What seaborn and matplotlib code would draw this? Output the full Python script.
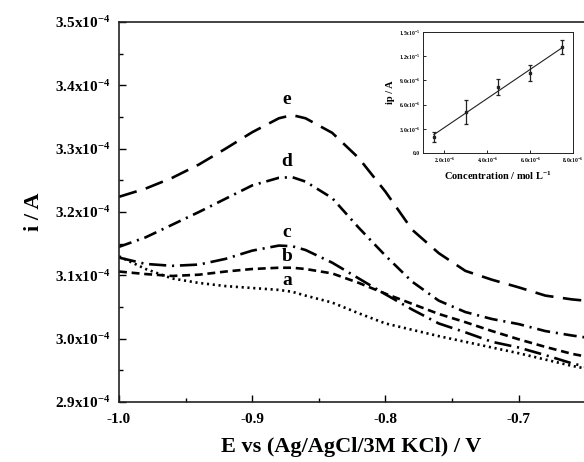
import numpy as np
import pandas as pd
import matplotlib
matplotlib.use("Agg")
import matplotlib.pyplot as plt
from matplotlib.ticker import MultipleLocator, FuncFormatter, FixedLocator
import seaborn as sns


# Datos

potencial = [-1.00, -0.98, -0.96, -0.94, -0.92, -0.90, -0.88, -0.87, -0.86, -0.84,
             -0.82, -0.80, -0.78, -0.76, -0.74, -0.72, -0.70, -0.68, -0.66, -0.65]

# corrientes en unidades de 1e-4 A
curva_a = [3.130, 3.110, 3.095, 3.088, 3.083, 3.080, 3.077, 3.074, 3.068, 3.057,
           3.040, 3.024, 3.014, 3.004, 2.995, 2.986, 2.977, 2.967, 2.957, 2.953]
curva_b = [3.106, 3.102, 3.099, 3.101, 3.106, 3.110, 3.112, 3.112, 3.110, 3.103,
           3.088, 3.071, 3.055, 3.039, 3.026, 3.012, 2.999, 2.987, 2.976, 2.972]
curva_c = [3.128, 3.118, 3.115, 3.117, 3.126, 3.139, 3.147, 3.146, 3.140, 3.120,
           3.095, 3.070, 3.046, 3.024, 3.010, 2.995, 2.986, 2.974, 2.961, 2.956]
curva_d = [3.145, 3.160, 3.180, 3.200, 3.221, 3.242, 3.254, 3.255, 3.248, 3.222,
           3.175, 3.131, 3.090, 3.060, 3.042, 3.031, 3.023, 3.012, 3.005, 3.002]
curva_e = [3.224, 3.237, 3.254, 3.275, 3.300, 3.326, 3.348, 3.353, 3.348, 3.325,
           3.285, 3.232, 3.172, 3.135, 3.107, 3.093, 3.081, 3.068, 3.062, 3.060]

etiquetas = ["a", "b", "c", "d", "e"]
pos_etiqueta = [3.092, 3.129, 3.167, 3.279, 3.377]

# Inset: calibración
concentracion = [1.5, 3.0, 4.5, 6.0, 7.5]   # x1e-6 mol/L
ip = [2.0, 5.1, 8.2, 9.9, 13.1]             # x1e-6 A
ip_err = [0.6, 1.45, 1.0, 1.0, 0.85]


# Estilo

sns.set_style("ticks")
plt.rcParams["font.family"] = ["Liberation Serif", "DejaVu Serif"]
plt.rcParams["font.weight"] = "bold"
plt.rcParams["mathtext.fontset"] = "custom"
plt.rcParams["mathtext.rm"] = "Liberation Serif:bold"
plt.rcParams["mathtext.bf"] = "Liberation Serif:bold"
plt.rcParams["mathtext.default"] = "bf"
plt.rcParams["axes.edgecolor"] = "#222222"
plt.rcParams["text.color"] = "black"
plt.rcParams["axes.labelcolor"] = "black"
plt.rcParams["xtick.color"] = "black"
plt.rcParams["ytick.color"] = "black"

fig = plt.figure(figsize=(5.84, 4.62), dpi=100)
ax = fig.add_axes([119 / 584, 1 - 402 / 462, 1 - 119 / 584, (402 - 22) / 462])

estilos = {
    "a": (0, (0.8, 1.4)),
    "b": (0, (3.0, 1.8)),
    "c": (0, (6.5, 2.2, 0.8, 2.2)),
    "d": (0, (5.0, 2.2, 0.8, 2.2)),
    "e": (0, (7.0, 3.6)),
}
curvas = [curva_a, curva_b, curva_c, curva_d, curva_e]

for nombre, valores in zip(etiquetas, curvas):
    sns.lineplot(
        x=potencial,
        y=np.array(valores) * 1e-4,
        ax=ax,
        color="black",
        lw=1.9,
        linestyle=estilos[nombre],
    )

for nombre, yv in zip(etiquetas, pos_etiqueta):
    ax.text(-0.874, yv * 1e-4, nombre, fontsize=14, fontweight="bold",
            ha="center", va="center")

ax.set_xlim(-1.0, -0.651)
ax.set_ylim(2.9e-4, 3.5e-4)
ax.xaxis.set_major_locator(MultipleLocator(0.1))
ax.xaxis.set_minor_locator(MultipleLocator(0.05))
ax.yaxis.set_major_locator(FixedLocator([2.9e-4 + i * 0.1e-4 for i in range(7)]))
ax.yaxis.set_minor_locator(FixedLocator([2.95e-4 + i * 0.1e-4 for i in range(6)]))
ax.xaxis.set_major_formatter(FuncFormatter(lambda v, p: f"{v:.1f}"))
ax.yaxis.set_major_formatter(FuncFormatter(lambda v, p: f"{v * 1e4:.1f}x10$^{{-4}}$"))
ax.tick_params(which="both", direction="in", width=1.0, labelsize=11)
ax.tick_params(which="major", length=5)
ax.tick_params(which="minor", length=3)
ax.tick_params(axis="x", pad=8)
ax.tick_params(axis="y", pad=6)
ax.spines["right"].set_visible(False)
for s in ["left", "top", "bottom"]:
    ax.spines[s].set_linewidth(1.2)

ax.set_xlabel("E vs (Ag/AgCl/3M KCl) / V", fontsize=16, fontweight="bold", labelpad=8)
ax.set_ylabel("i / A", fontsize=16, fontweight="bold", labelpad=8)

# Inset

ins = fig.add_axes([423 / 584, 1 - 153 / 462, (573 - 423) / 584, (153 - 32) / 462])
sns.regplot(x=concentracion, y=ip, ax=ins, ci=None, scatter=False,
            line_kws={"color": "#222222", "lw": 0.8})
ins.errorbar(concentracion, ip, yerr=ip_err, fmt="s", ms=2, color="#222222",
             ecolor="#222222", elinewidth=0.9, capsize=1.5, capthick=0.9)
ins.set_xlim(1.0, 8.0)
ins.set_ylim(0, 15)
ins.set_xticks([2, 4, 6, 8])
ins.set_yticks([0, 3, 6, 9, 12, 15])


def fmt_x(v, p):
    return f"{v:.1f}x10$^{{-6}}$"


def fmt_y(v, p):
    if v == 0:
        return "0.0"
    if v >= 10:
        return f"{v / 10:.1f}x10$^{{-5}}$"
    return f"{v:.1f}x10$^{{-6}}$"


ins.xaxis.set_major_formatter(FuncFormatter(fmt_x))
ins.yaxis.set_major_formatter(FuncFormatter(fmt_y))
ins.tick_params(direction="in", length=2, width=0.6, labelsize=4, pad=2)
for s in ins.spines.values():
    s.set_linewidth(0.7)
ins.set_xlabel("Concentration / mol L$^{-1}$", fontsize=7.5, fontweight="bold", labelpad=3)
ins.set_ylabel("ip / A", fontsize=7.5, fontweight="bold", labelpad=3)

plt.savefig("out.png", dpi=100)
plt.close()
